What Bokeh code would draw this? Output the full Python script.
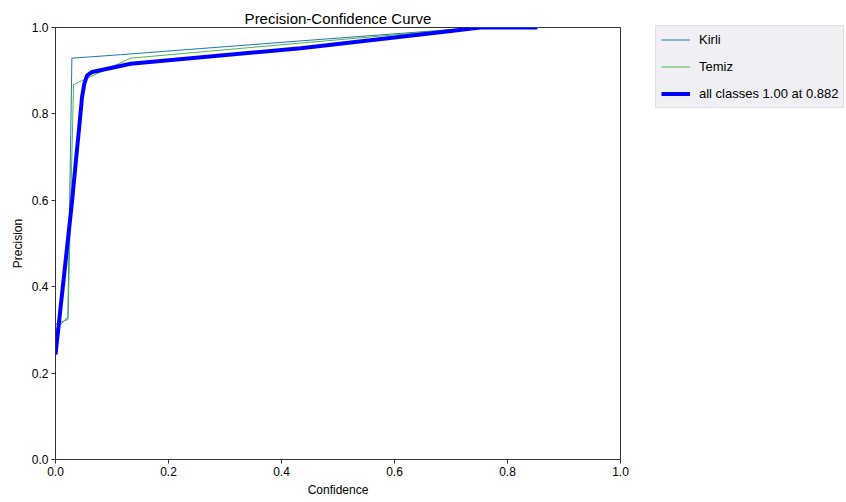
from bokeh.plotting import figure
from bokeh.models import Legend, LegendItem, Range1d, FixedTicker, CustomJSTickFormatter
from bokeh.embed import file_html
from bokeh.resources import INLINE

# --- data ---
kirli_conf = [0.0, 0.022, 0.029, 0.115, 0.434, 0.75, 0.855]
kirli_prec = [0.30, 0.33, 0.929, 0.937, 0.969, 1.0, 1.0]

temiz_conf = [0.0, 0.002, 0.022, 0.032, 0.133, 0.434, 0.75, 0.855]
temiz_prec = [0.31, 0.315, 0.324, 0.868, 0.929, 0.964, 1.0, 1.0]

all_conf = [0.0, 0.0295, 0.036, 0.042, 0.047, 0.051, 0.056, 0.065, 0.133, 0.292, 0.434, 0.681, 0.752, 0.853]
all_prec = [0.243, 0.60, 0.69, 0.77, 0.839, 0.87, 0.889, 0.897, 0.916, 0.935, 0.952, 0.989, 1.0, 1.0]

labels = ["Kirli", "Temiz", "all classes 1.00 at 0.882"]
ticks = [0.0, 0.2, 0.4, 0.6, 0.8, 1.0]

FONT = "Liberation Sans"

p = figure(frame_width=565, frame_height=432, output_backend="svg", toolbar_location=None,
           x_range=Range1d(0, 1), y_range=Range1d(0, 1),
           min_border_left=55, min_border_right=226, min_border_top=27, min_border_bottom=43,
           title="Precision-Confidence Curve")
p.title.align = "center"
p.title.text_font = FONT
p.title.text_font_size = "15px"
p.title.text_font_style = "normal"
p.title.text_color = "#000000"
p.title.offset = 0
p.title.standoff = 1

p.xgrid.visible = False
p.ygrid.visible = False
p.outline_line_color = "#333333"
p.outline_line_width = 1
p.background_fill_color = "white"
p.border_fill_color = "white"

fmt = CustomJSTickFormatter(code="return tick.toFixed(1);")
for ax, lab in ((p.xaxis, "Confidence"), (p.yaxis, "Precision")):
    ax.ticker = FixedTicker(ticks=ticks)
    ax.formatter = fmt
    ax.axis_label = lab
    ax.axis_label_text_font = FONT
    ax.axis_label_text_font_size = "12px"
    ax.axis_label_text_font_style = "normal"
    ax.axis_label_text_color = "#000000"
    ax.major_label_text_font = FONT
    ax.major_label_text_font_size = "12px"
    ax.major_label_text_color = "#000000"
    ax.axis_line_color = "#333333"
    ax.major_tick_line_color = "#333333"
    ax.major_tick_out = 4
    ax.major_tick_in = 0
    ax.minor_tick_line_color = None
    ax.axis_label_standoff = 4
    ax.major_label_standoff = 3

r1 = p.line(kirli_conf, kirli_prec, line_color="#1f77b4", line_width=1)
r2 = p.line(temiz_conf, temiz_prec, line_color="#4cb54c", line_width=1)
r3 = p.line(all_conf, all_prec, line_color="#0000ff", line_width=4, line_join="round")

legend = Legend(items=[LegendItem(label=labels[0], renderers=[r1]),
                       LegendItem(label=labels[1], renderers=[r2]),
                       LegendItem(label=labels[2], renderers=[r3])],
                location=(35, 351))
legend.label_text_font = FONT
legend.label_text_font_size = "13px"
legend.label_text_color = "#000000"
legend.glyph_width = 29
legend.glyph_height = 17
legend.label_height = 17
legend.label_standoff = 9
legend.spacing = 10
legend.padding = 5
legend.margin = 0
legend.border_line_color = "#cfcfd4"
legend.background_fill_color = "#f0f0f4"
legend.background_fill_alpha = 1.0
p.add_layout(legend, "right")

open("out.html", "w").write(file_html(p, INLINE))
